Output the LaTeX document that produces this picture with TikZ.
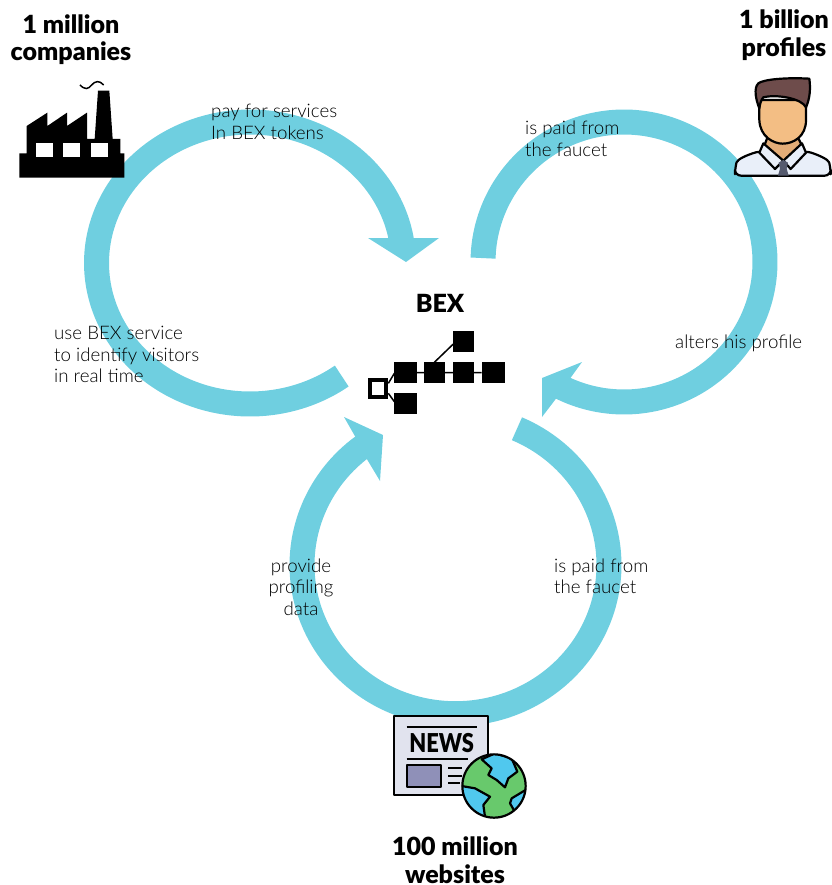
\documentclass[tikz,border=0pt]{standalone}
\usepackage{fontspec}
\setmainfont{Lato}[BoldFont={Lato Black}]
\newfontfamily\lightfont{Lato Light}
\definecolor{ring}{HTML}{6FCFE0}
\definecolor{txt}{HTML}{000000}
\definecolor{shirt}{HTML}{E9EFF9}
\definecolor{hair}{HTML}{6E4C4B}
\definecolor{skin}{HTML}{F3BE84}
\definecolor{neck}{HTML}{E3AD78}
\definecolor{tie}{HTML}{555A6E}
\definecolor{paper}{HTML}{E1E3EE}
\definecolor{pic}{HTML}{8F90B8}
\definecolor{sea}{HTML}{50C8EE}
\definecolor{land}{HTML}{68C96C}
\tikzset{
  ringline/.style={draw=ring,line width=25pt,line cap=butt},
  ringhead/.style={fill=ring,draw=none},
  lbl/.style={text=txt,inner sep=0pt,anchor=west,align=left,font=\lightfont\fontsize{18.7}{21.5}\selectfont},
  lblc/.style={text=txt,inner sep=0pt,align=center,font=\lightfont\fontsize{18.7}{21.5}\selectfont},
  ttl/.style={text=black,inner sep=0pt,align=center,font=\fontsize{25}{27.5}\selectfont\bfseries},
  blk/.style={fill=black,draw=none},
  icon/.style={draw=black,line width=2.2pt,line join=round},
}
\begin{document}
\begin{tikzpicture}[x=1pt,y=-1pt]
\useasboundingbox (0,0) rectangle (831,885);
% arcs
\draw[ringline] plot[smooth,domain=53.3:352,samples=90] ({250+153.5*cos(\x)},{263+141*sin(\x)});
\fill[ringhead] (368,238) -- (439,238) -- (406,262) -- cycle;
\draw[ringline] plot[smooth,domain=181.6:478,samples=90] ({624+141*cos(\x)},{262+140*sin(\x)});
\fill[ringhead] (582,362) -- (542,378) -- (542,417) -- (555,400) -- (569,380) -- cycle;
\draw[ringline] plot[smooth,domain=-66.4:234,samples=90] ({455.5+153.5*cos(\x)},{565+148.7*sin(\x)});
\fill[ringhead] (344,417) -- (383,435) -- (380,481) -- (368,461) -- (356,438) -- cycle;
% labels
\node[lbl] (payl) at (211,122) {pay for services\\In BEX tokens};
\node[lbl] (paidr) at (525,139) {is paid from\\the faucet};
\node[lbl] (alters) at (675,343) {alters his profile};
\node[lbl] (use) at (54,354.5) {use BEX service\\to identify visitors\\in real time};
\node[lblc] (prov) at (301,587) {provide\\profiling\\data};
\node[lbl] (paidb) at (554,576.5) {is paid from\\the faucet};
\node[ttl] (tcomp) at (71,39.5) {1 million\\companies};
\node[ttl] (tprof) at (784,35) {1 billion\\profiles};
\node[ttl] (tweb) at (455,860) {100 million\\websites};
\node[ttl] (tbex) at (440,303) {BEX};
% factory
\begin{scope}[shift={(0,0)},scale=1/3]
\fill[blk] (58,460) -- (80,460) -- (80,378) -- (142,338) -- (142,378) -- (201,338) -- (201,378) -- (261,338) -- (261,417) -- (284,417) -- (294,272) -- (328,272) -- (338,417) -- (361,417) -- (361,460) -- (373,460) -- (373,533) -- (58,533) -- cycle;
\fill[white] (108,429) rectangle (158,472);
\fill[white] (190,429) rectangle (240,472);
\fill[white] (273,429) rectangle (323,472);
\draw[black,line width=1.5pt] (240,255) .. controls (255,270) and (265,268) .. (275,255) .. controls (285,243) and (298,240) .. (311,255);
\end{scope}
% person
\begin{scope}[shift={(700,0)},scale=1/3]
\draw[icon,fill=neck] (205,405) -- (290,405) -- (310,445) -- (250,495) -- (190,445) -- cycle;
\draw[icon,fill=shirt,rounded corners=6pt] (105,527) -- (105,505) .. controls (112,478) and (140,465) .. (185,452) -- (250,490) -- (315,452) .. controls (355,465) and (385,478) .. (392,505) -- (392,527) -- cycle;
\draw[icon,fill=shirt] (190,430) -- (178,458) -- (225,507) -- (250,482) -- cycle;
\draw[icon,fill=shirt] (306,430) -- (318,458) -- (272,507) -- (250,482) -- cycle;
\fill[tie] (236,488) -- (250,480) -- (264,488) -- (260,506) -- (266,527) -- (234,527) -- (240,506) -- cycle;
\draw[icon,fill=skin] (178,300) -- (178,360) .. controls (180,410) and (220,431) .. (248,431) .. controls (280,431) and (318,410) .. (318,360) -- (318,300) -- cycle;
\draw[icon,fill=hair] (178,325) .. controls (168,300) and (160,265) .. (175,250) .. controls (190,238) and (260,232) .. (328,236) .. controls (332,265) and (330,295) .. (318,322) .. controls (305,295) and (230,282) .. (190,292) .. controls (184,298) and (180,310) .. (178,325) -- cycle;
\end{scope}
% news
\begin{scope}[shift={(380,700)},scale=1/3]
\draw[icon,fill=paper] (42,47) rectangle (325,285);
\draw[black,line width=1.8pt] (80,80) -- (290,80);
\node[inner sep=0pt,font=\fontsize{26}{26}\selectfont\bfseries,text=black,xscale=.84] (newsw) at (185,130) {NEWS};
\draw[black,line width=1.8pt] (80,178) -- (265,178);
\draw[icon,fill=pic] (82,195) rectangle (183,262);
\draw[black,line width=1.8pt] (205,203) -- (245,203) (205,227) -- (245,227) (205,250) -- (240,250);
\begin{scope}
\clip (342,258) circle (95);
\fill[land] (342,258) circle (95);
\draw[icon,fill=sea] (305,178) -- (335,205) -- (325,225) -- (350,240) -- (375,262) -- (385,235) -- (412,215) -- (395,175) -- (345,160) -- cycle;
\draw[icon,fill=sea] (245,258) -- (285,265) -- (330,290) -- (310,315) -- (315,350) -- (280,345) -- (245,310) -- cycle;
\draw[icon,fill=sea] (440,268) -- (395,295) -- (390,310) -- (410,345) -- (445,310) -- cycle;
\end{scope}
\draw[black,line width=2.2pt] (342,258) circle (95);
\end{scope}
% BEX icon
\begin{scope}[shift={(340,220)},scale=1/3]
\draw[black,line width=1.5pt] (145,490) -- (163,460) (145,520) -- (163,545) (230,458) -- (425,458) (283,427) -- (340,372);
\draw[black,line width=4pt,fill=white] (91,481) rectangle (139,531);
\fill[blk] (163,427) rectangle (230,490);
\fill[blk] (252,427) rectangle (316,490);
\fill[blk] (338,427) rectangle (403,490);
\fill[blk] (425,427) rectangle (494,490);
\fill[blk] (338,333) rectangle (403,397);
\fill[blk] (163,520) rectangle (230,583);
\end{scope}
\end{tikzpicture}
\end{document}
